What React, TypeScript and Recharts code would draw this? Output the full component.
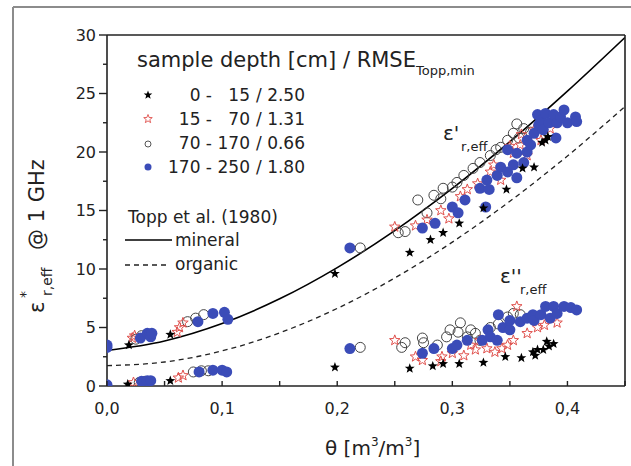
import React from "react";
import {
  ComposedChart, Scatter, Line, XAxis, YAxis,
} from "recharts";

// Topp et al. (1980) reference curves, read at 0.05 steps of theta
const THETA_CURVE = [0, 0.05, 0.1, 0.15, 0.2, 0.25, 0.3, 0.35, 0.4, 0.45];
const TOPP_MINERAL = [3.03, 3.85, 5.34, 7.45, 10.12, 13.28, 16.89, 20.88, 25.2, 29.79];
const TOPP_ORGANIC = [1.74, 2.05, 3.0, 4.54, 6.63, 9.23, 12.3, 15.79, 19.66, 23.88];

// [theta, eps] pairs; *_REAL = eps', *_IMAG = eps''
const D0_15_REAL: [number, number][] = [
  [0.019, 3.5], [0.055, 4.4], [0.198, 9.6], [0.263, 11.4], [0.281, 12.5], [0.292, 13.1],
  [0.306, 13.9], [0.327, 15.2], [0.347, 16.8], [0.361, 18.6], [0.371, 18.7], [0.378, 20.8],
  [0.381, 21.0], [0.383, 21.3],
];
const D0_15_IMAG: [number, number][] = [
  [0.018, 0.15], [0.055, 0.45], [0.198, 1.6], [0.263, 1.5], [0.283, 1.7], [0.292, 1.9],
  [0.306, 1.9], [0.327, 2.0], [0.346, 2.5], [0.36, 2.4], [0.37, 2.9], [0.372, 2.6],
  [0.374, 3.1], [0.379, 3.1], [0.382, 3.8], [0.384, 3.4], [0.388, 3.6],
];
const D15_70_REAL: [number, number][] = [
  [0.022, 4.1], [0.024, 4.3], [0.061, 4.6], [0.063, 5.0], [0.066, 5.4], [0.25, 13.6],
  [0.268, 13.7], [0.278, 14.2], [0.29, 15.0], [0.297, 14.3], [0.307, 16.2], [0.313, 16.8],
  [0.322, 17.3], [0.333, 18.3], [0.336, 18.9], [0.342, 17.6], [0.35, 20.5], [0.353, 19.9],
  [0.359, 20.6], [0.36, 21.5], [0.365, 19.7], [0.371, 21.9], [0.377, 21.0], [0.385, 22.0],
  [0.391, 22.6],
];
const D15_70_IMAG: [number, number][] = [
  [0.023, 0.3], [0.062, 0.7], [0.066, 0.9], [0.25, 3.9], [0.268, 2.5], [0.274, 2.2],
  [0.29, 2.1], [0.291, 2.5], [0.3, 2.8], [0.31, 2.6], [0.316, 3.5], [0.32, 3.1],
  [0.324, 3.9], [0.33, 3.2], [0.337, 2.9], [0.343, 3.2], [0.348, 3.5], [0.353, 3.9],
  [0.356, 6.8], [0.365, 4.5], [0.374, 5.0], [0.38, 5.2], [0.391, 5.4],
];
const D70_170_REAL: [number, number][] = [
  [0.025, 4.0], [0.03, 4.3], [0.07, 5.5], [0.077, 5.8], [0.084, 6.1], [0.22, 11.8],
  [0.253, 13.1], [0.259, 13.2], [0.27, 15.9], [0.278, 14.8], [0.284, 16.3], [0.29, 16.0],
  [0.292, 16.9], [0.3, 17.0], [0.304, 17.4], [0.31, 18.0], [0.318, 18.6], [0.324, 19.1],
  [0.333, 19.7], [0.338, 20.2], [0.342, 20.4], [0.348, 21.0], [0.353, 21.6], [0.356, 22.4],
  [0.358, 21.2], [0.362, 22.0], [0.368, 21.7],
];
const D70_170_IMAG: [number, number][] = [
  [0.028, 0.3], [0.033, 0.4], [0.075, 1.2], [0.082, 1.3], [0.088, 1.3], [0.22, 3.3],
  [0.256, 3.3], [0.259, 3.7], [0.274, 4.1], [0.275, 3.7], [0.287, 3.5], [0.295, 4.2],
  [0.298, 4.8], [0.305, 4.6], [0.307, 5.4], [0.313, 4.2], [0.316, 4.8], [0.32, 4.5],
  [0.324, 3.9], [0.333, 5.0], [0.34, 5.3], [0.348, 5.9], [0.353, 6.2], [0.359, 6.1],
];
const D170_250_REAL: [number, number][] = [
  [0.0, 3.5], [0.0, 3.3], [0.029, 4.1], [0.035, 4.5], [0.037, 4.4], [0.038, 4.2],
  [0.039, 4.5], [0.079, 5.5], [0.092, 6.2], [0.102, 6.3], [0.105, 5.7], [0.211, 11.8],
  [0.274, 13.5], [0.285, 13.9], [0.3, 15.3], [0.305, 14.8], [0.311, 15.9], [0.324, 16.9],
  [0.329, 15.3], [0.33, 17.6], [0.332, 16.8], [0.339, 18.0], [0.342, 18.7], [0.348, 18.3],
  [0.348, 20.2], [0.353, 18.9], [0.356, 17.8], [0.356, 19.9], [0.362, 19.1], [0.365, 20.0],
  [0.365, 21.0], [0.368, 20.6], [0.371, 21.6], [0.374, 23.2], [0.375, 22.3], [0.377, 22.7],
  [0.379, 21.9], [0.381, 23.3], [0.384, 22.5], [0.388, 23.2], [0.39, 21.2], [0.391, 22.5],
  [0.394, 23.0], [0.397, 23.6], [0.4, 22.5], [0.407, 23.0], [0.408, 22.6],
];
const D170_250_IMAG: [number, number][] = [
  [0.0, 0.1], [0.03, 0.4], [0.035, 0.45], [0.038, 0.45], [0.08, 1.2], [0.092, 1.35],
  [0.1, 1.35], [0.104, 1.2], [0.211, 3.2], [0.274, 2.8], [0.284, 3.2], [0.3, 3.2],
  [0.304, 3.5], [0.313, 3.9], [0.326, 3.9], [0.331, 4.8], [0.333, 4.2], [0.339, 3.9],
  [0.34, 6.1], [0.344, 5.0], [0.35, 4.8], [0.35, 5.6], [0.359, 5.5], [0.365, 5.8],
  [0.37, 6.1], [0.371, 5.6], [0.377, 6.1], [0.381, 6.8], [0.385, 5.8], [0.388, 6.8],
  [0.391, 6.2], [0.397, 6.8], [0.403, 6.7], [0.408, 6.5],
];

const X_TICKS = [0, 0.05, 0.1, 0.15, 0.2, 0.25, 0.3, 0.35, 0.4, 0.45];
const Y_TICKS = [0, 2.5, 5, 7.5, 10, 12.5, 15, 17.5, 20, 22.5, 25, 27.5, 30];
const LEGEND_ROWS = [
  ["0 -", "15", "/ 2.50"],
  ["15 -", "70", "/ 1.31"],
  ["70 -", "170", "/ 0.66"],
  ["170 -", "250", "/ 1.80"],
];

const FONT = "'DejaVu Sans', sans-serif";
const AXIS = "#222";
const BLUE = "#3b4cb8";
const RED = "#e0504c";

const pts = (a: [number, number][], b: [number, number][]) =>
  [...a, ...b].map(([x, y]) => ({ x, y }));
const curve = (vals: number[]) => THETA_CURVE.map((x, i) => ({ x, y: vals[i] }));

const starPath = (cx: number, cy: number, r: number) => {
  let d = "";
  for (let i = 0; i < 10; i++) {
    const a = -Math.PI / 2 + (i * Math.PI) / 5;
    const rr = i % 2 === 0 ? r : r * 0.42;
    d += (i === 0 ? "M" : "L") + (cx + rr * Math.cos(a)).toFixed(2) + "," + (cy + rr * Math.sin(a)).toFixed(2);
  }
  return d + "Z";
};

const BlackStar = (p: any) => <path d={starPath(p.cx, p.cy, 5.2)} fill="#000" />;
const RedStar = (p: any) => <path d={starPath(p.cx, p.cy, 5.5)} fill="none" stroke={RED} strokeWidth={1} />;
const OpenCircle = (p: any) => <circle cx={p.cx} cy={p.cy} r={5} fill="none" stroke="#444" strokeWidth={1} />;
const BlueDot = (p: any) => <circle cx={p.cx} cy={p.cy} r={5.5} fill={BLUE} />;

const isMult = (v: number, step: number) => Math.abs(v / step - Math.round(v / step)) < 1e-6;

const LeftTick = ({ x, y, payload }: any) => {
  const major = isMult(payload.value, 5);
  return (
    <g>
      <line x1={x + 11 - (major ? 8 : 4)} x2={x + 11} y1={y} y2={y} stroke={AXIS} strokeWidth={1.4} />
      {major && (
        <text x={x} y={y} dy="0.36em" textAnchor="end" fontSize={16} fontFamily={FONT} fill="#222">
          {payload.value}
        </text>
      )}
    </g>
  );
};

const BottomTick = ({ x, y, payload }: any) => {
  const major = isMult(payload.value, 0.1);
  return (
    <g>
      <line x1={x} x2={x} y1={y} y2={y - 5} stroke={AXIS} strokeWidth={1.4} />
      {major && (
        <text x={x} y={y + 28} textAnchor="middle" fontSize={16} fontFamily={FONT} fill="#222">
          {"0," + Math.round(payload.value * 10)}
        </text>
      )}
    </g>
  );
};

const TopTick = ({ x, y }: any) => <line x1={x} x2={x} y1={y} y2={y + 5} stroke={AXIS} strokeWidth={1.4} />;
const RightTick = ({ x, y }: any) => <line x1={x} x2={x - 5} y1={y} y2={y} stroke={AXIS} strokeWidth={1.4} />;

export default function App() {
  return (
    <div style={{ position: "fixed", left: 0, top: 0, width: 631, height: 466, background: "#fff" }}>
      <ComposedChart width={631} height={466} margin={{ top: 0, right: 0, bottom: 0, left: 0 }}>
        <XAxis dataKey="x" type="number" domain={[0, 0.45]} ticks={X_TICKS} interval={0}
          height={80} tickSize={0} tickMargin={0} tickLine={false} tick={<BottomTick />}
          axisLine={{ stroke: AXIS, strokeWidth: 1.6 }} allowDataOverflow />
        <XAxis xAxisId="top" orientation="top" dataKey="x" type="number" domain={[0, 0.45]}
          ticks={X_TICKS} interval={0} height={35} tickSize={0} tickMargin={0} tickLine={false}
          tick={<TopTick />} axisLine={{ stroke: AXIS, strokeWidth: 1.6 }} />
        <YAxis type="number" domain={[0, 30]} ticks={Y_TICKS} interval={0} width={107}
          tickSize={8} tickMargin={3} tickLine={false} tick={<LeftTick />}
          axisLine={{ stroke: AXIS, strokeWidth: 1.6 }} allowDataOverflow />
        <YAxis yAxisId="right" orientation="right" type="number" domain={[0, 30]} ticks={Y_TICKS}
          interval={0} width={6} tickSize={0} tickMargin={0} tickLine={false} tick={<RightTick />}
          axisLine={{ stroke: AXIS, strokeWidth: 1.6 }} />

        <Line data={curve(TOPP_MINERAL)} dataKey="y" type="monotone" stroke="#000" strokeWidth={1.6}
          dot={false} isAnimationActive={false} />
        <Line data={curve(TOPP_ORGANIC)} dataKey="y" type="monotone" stroke="#222" strokeWidth={1.3}
          strokeDasharray="5 4" dot={false} isAnimationActive={false} />

        <Scatter data={pts(D70_170_REAL, D70_170_IMAG)} dataKey="y" shape={OpenCircle} isAnimationActive={false} />
        <Scatter data={pts(D15_70_REAL, D15_70_IMAG)} dataKey="y" shape={RedStar} isAnimationActive={false} />
        <Scatter data={pts(D170_250_REAL, D170_250_IMAG)} dataKey="y" shape={BlueDot} isAnimationActive={false} />
        <Scatter data={pts(D0_15_REAL, D0_15_IMAG)} dataKey="y" shape={BlackStar} isAnimationActive={false} />
      </ComposedChart>

      <svg width={631} height={466} style={{ position: "absolute", left: 0, top: 0, pointerEvents: "none" }}
        fontFamily={FONT} fill="#222">
        {/* outer frame */}
        <line x1={13} y1={7} x2={631} y2={7} stroke="#8c8c8c" strokeWidth={2} />
        <line x1={13} y1={7} x2={13} y2={466} stroke="#8c8c8c" strokeWidth={2} />

        {/* axis titles */}
        <text transform="translate(44,313) rotate(-90)" fontSize={21}>
          <tspan x={0} y={0}>ε</tspan>
          <tspan x={15} y={-14} fontSize={14}>*</tspan>
          <tspan x={17} y={8} fontSize={14}>r,eff</tspan>
          <tspan x={63} y={0}>@ 1 GHz</tspan>
        </text>
        <text x={325} y={455} fontSize={20}>
          θ [m<tspan fontSize={12} dy={-9}>3</tspan>
          <tspan dy={9}>/m</tspan>
          <tspan fontSize={12} dy={-9}>3</tspan>
          <tspan dy={9}>]</tspan>
        </text>

        {/* legend */}
        <text x={137} y={67} fontSize={21}>
          sample depth [cm] / RMSE<tspan fontSize={13} dy={8}>Topp,min</tspan>
        </text>
        {LEGEND_ROWS.map((r, i) => {
          const y = 101 + i * 24;
          return (
            <g key={i} fontSize={17}>
              <text x={212} y={y} textAnchor="end">{r[0]}</text>
              <text x={250} y={y} textAnchor="end">{r[1]}</text>
              <text x={305} y={y} textAnchor="end">{r[2]}</text>
            </g>
          );
        })}
        <path d={starPath(148, 95, 4.5)} fill="#000" />
        <path d={starPath(148, 119, 4.5)} fill="none" stroke={RED} strokeWidth={0.9} />
        <circle cx={148} cy={144} r={3} fill="none" stroke="#444" strokeWidth={0.9} />
        <circle cx={148} cy={167} r={3.5} fill={BLUE} />

        <text x={128} y={223} fontSize={17}>Topp et al. (1980)</text>
        <line x1={125} y1={240} x2={172} y2={240} stroke="#000" strokeWidth={1.6} />
        <text x={175} y={246} fontSize={17}>mineral</text>
        <line x1={125} y1={265} x2={167} y2={265} stroke="#222" strokeWidth={1.3} strokeDasharray="5 4" />
        <text x={175} y={270} fontSize={17}>organic</text>

        {/* curve annotations */}
        <text x={443} y={140} fontSize={20}>ε'</text>
        <text x={461} y={151} fontSize={13}>r,eff</text>
        <text x={500} y={283} fontSize={20}>ε''</text>
        <text x={520} y={294} fontSize={13}>r,eff</text>
      </svg>
    </div>
  );
}
